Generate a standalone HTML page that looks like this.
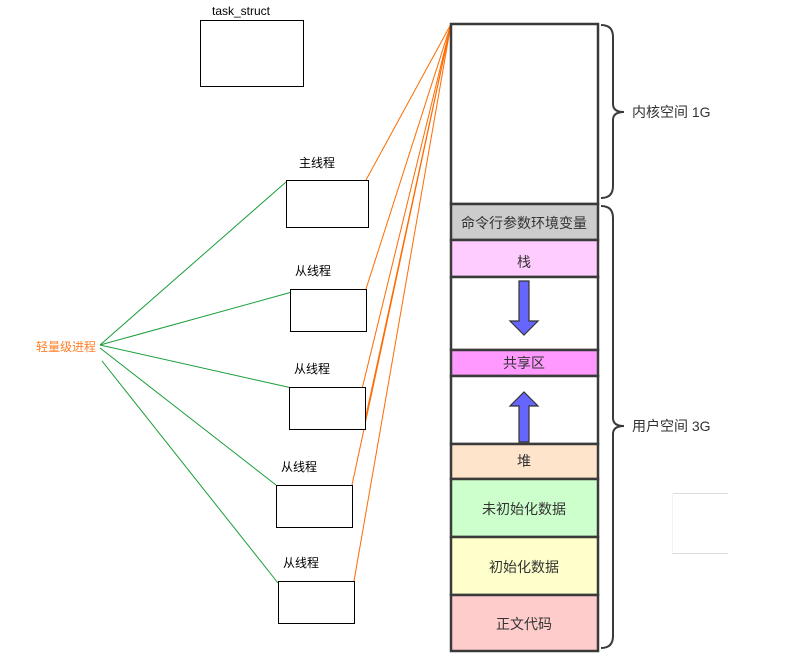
<!DOCTYPE html>
<html><head><meta charset="utf-8"><style>
html,body{margin:0;padding:0;background:#fff;width:803px;height:665px;overflow:hidden}
svg text{font-family:"Liberation Sans","Noto Sans CJK SC",sans-serif}
</style></head><body>
<svg width="803" height="665" viewBox="0 0 803 665" xmlns="http://www.w3.org/2000/svg">
<text x="212" y="15" font-size="12" fill="#000">task_struct</text>
<rect x="200.5" y="20.5" width="103" height="66" fill="#fff" stroke="#000"/>
<g stroke="#1a9e3a" stroke-width="1" fill="none">
<line x1="100" y1="345" x2="286" y2="182"/>
<line x1="100" y1="345" x2="292" y2="292"/>
<line x1="100" y1="345" x2="292" y2="388"/>
<line x1="100" y1="348" x2="276" y2="485"/>
<line x1="102" y1="361" x2="278" y2="583"/>
</g>
<g stroke="#ff6a00" stroke-width="1" fill="none">
<line x1="451" y1="24" x2="366" y2="180"/>
<line x1="451" y1="24" x2="366" y2="289"/>
<line x1="451" y1="24" x2="362" y2="389"/>
<line x1="451" y1="24" x2="365" y2="420"/>
<line x1="451" y1="24" x2="352" y2="485"/>
<line x1="451" y1="24" x2="354" y2="581"/>
</g>
<g fill="#fff" stroke="#000" stroke-width="1">
<rect x="286.5" y="180.5" width="82" height="47"/>
<rect x="290.5" y="289.5" width="76" height="42"/>
<rect x="289.5" y="387.5" width="76" height="42"/>
<rect x="276.5" y="485.5" width="76" height="42"/>
<rect x="278.5" y="581.5" width="76" height="42"/>
</g>
<g font-size="12" fill="#000">
<text x="299" y="167">主线程</text>
<text x="295" y="275">从线程</text>
<text x="294" y="373">从线程</text>
<text x="281" y="471">从线程</text>
<text x="283" y="567">从线程</text>
</g>
<text x="36" y="351" font-size="12" fill="#ff7f27">轻量级进程</text>
<g stroke="#3a3a3a" stroke-width="2.5">
<rect x="451" y="24" width="147" height="180" fill="#fff"/>
<rect x="451" y="204" width="147" height="36" fill="#cccccc"/>
<rect x="451" y="240" width="147" height="37" fill="#ffccff"/>
<rect x="451" y="277" width="147" height="73" fill="#fff"/>
<rect x="451" y="350" width="147" height="26" fill="#ff99ff"/>
<rect x="451" y="376" width="147" height="68" fill="#fff"/>
<rect x="451" y="444" width="147" height="35" fill="#ffe4cc"/>
<rect x="451" y="479" width="147" height="58" fill="#ccffcc"/>
<rect x="451" y="537" width="147" height="58" fill="#ffffcc"/>
<rect x="451" y="595" width="147" height="56" fill="#ffcccc"/>
</g>
<g fill="#6666ff" stroke="#333" stroke-width="1.2">
<polygon points="519,281 529,281 529,321 538,321 524,335 510,321 519,321"/>
<polygon points="519,442 529,442 529,406 538,406 524,392 510,406 519,406"/>
</g>
<g font-size="14" fill="#333" text-anchor="middle">
<text x="524" y="228">命令行参数环境变量</text>
<text x="524" y="267">栈</text>
<text x="524" y="368">共享区</text>
<text x="524" y="466">堆</text>
<text x="524" y="514">未初始化数据</text>
<text x="524" y="572">初始化数据</text>
<text x="524" y="629">正文代码</text>
</g>
<g stroke="#3a3a3a" stroke-width="2" fill="none">
<path d="M601,25 Q613,25 613,37 L613,104 Q613,112 624,112 Q613,112 613,120 L613,186 Q613,198 601,198"/>
<path d="M601,206 Q613,206 613,218 L613,418 Q613,426 624,426 Q613,426 613,434 L613,636 Q613,648 601,648"/>
</g>
<g font-size="14" fill="#333">
<text x="632" y="117">内核空间 1G</text>
<text x="632" y="431">用户空间 3G</text>
</g>
<g stroke="#ddd" stroke-width="1" fill="none">
<line x1="672" y1="493.5" x2="728" y2="493.5"/>
<line x1="672" y1="553.5" x2="728" y2="553.5"/>
<line x1="672.5" y1="493" x2="672.5" y2="553" stroke="#f2f2f2"/>
</g>
</svg>
</body></html>
